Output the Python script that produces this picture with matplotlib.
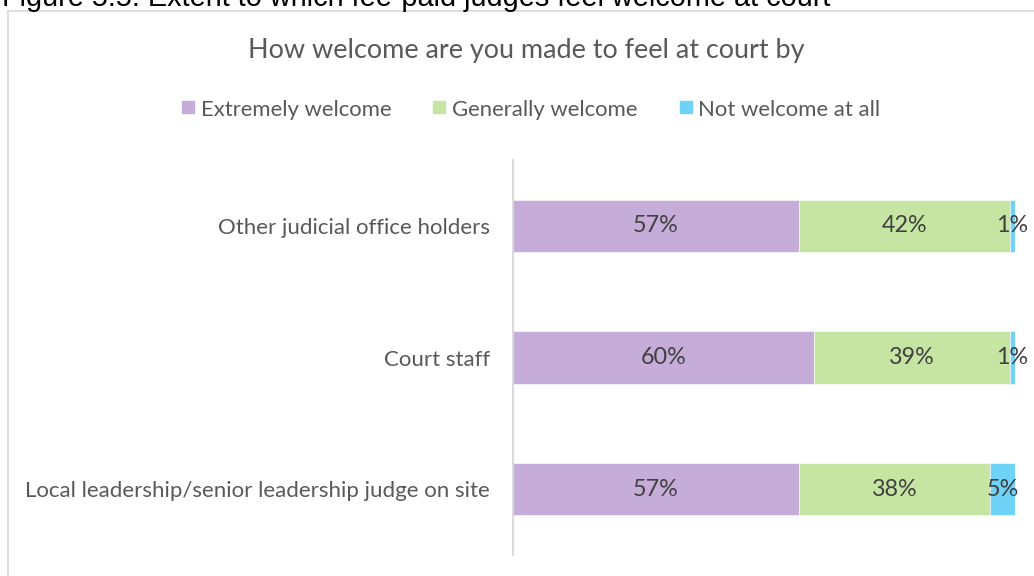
import matplotlib
matplotlib.use("Agg")
import matplotlib.pyplot as plt
from matplotlib.lines import Line2D
from matplotlib.patches import Rectangle

categories = ["Other judicial office holders", "Court staff",
              "Local leadership/senior leadership judge on site"]
series_names = ["Extremely welcome", "Generally welcome", "Not welcome at all"]
extremely = [57, 60, 57]
generally = [42, 39, 38]
not_welcome = [1, 1, 5]
series_values = [extremely, generally, not_welcome]
colors = ["#C6ACD8", "#C6E5A3", "#6ED3F6"]
title = "How welcome are you made to feel at court by"
heading = "Figure 5.5: Extent to which fee-paid judges feel welcome at court"

W, H = 1034, 576
fig = plt.figure(figsize=(W / 100, H / 100), dpi=100)
FONT = ["Lato", "DejaVu Sans"]
TXT = "#595959"
renderer = fig.canvas.get_renderer()


def fx(px):
    return px / W


def fy(py):
    return 1 - py / H


def fit(t, target_px):
    t.set_fontsize(10)
    w = t.get_window_extent(renderer).width
    t.set_fontsize(10 * target_px / w)
    return t.get_fontsize()


# frame border
fig.add_artist(Line2D([fx(7.5), fx(7.5)], [fy(10.5), 0], color="#D9D9D9", lw=1.2))
fig.add_artist(Line2D([fx(7.5), 1], [fy(10.5), fy(10.5)], color="#D9D9D9", lw=1.2))

# heading of the page, partly cut off at the top as in the reference
th = fig.text(fx(2), fy(6), heading, ha="left", va="baseline", color="black",
              family=["Liberation Sans", "DejaVu Sans"])
fit(th, 831)

# title
tt = fig.text(fx(526.5), fy(58), title, ha="center", va="baseline", color=TXT, family=FONT)
fit(tt, 557)

ax = fig.add_axes([fx(513), fy(555), fx(1015) - fx(513), (555 - 160) / H])
y = list(range(len(categories)))
left = [0] * len(categories)
bars_all = []
for name, vals, c in zip(series_names, series_values, colors):
    bars = ax.barh(y, vals, left=left, height=0.395, color=c, label=name,
                   edgecolor="white", linewidth=0.4)
    bars_all.append((bars, vals, left[:]))
    left = [l + v for l, v in zip(left, vals)]

ax.set_xlim(0, 100)
ax.set_ylim(-0.5, len(categories) - 0.5)
ax.invert_yaxis()
ax.set_xticks([])
ax.set_yticks(y)
ax.set_yticklabels(categories, color=TXT, family=FONT)
ax.tick_params(axis="y", length=0, pad=16.5)
for s in ["top", "right", "bottom"]:
    ax.spines[s].set_visible(False)
ax.spines["left"].set_color("#D9D9D9")
ax.spines["left"].set_linewidth(1.5)

# fit category font size to longest label
probe = fig.text(0, 0, categories[2], family=FONT)
cat_fs = fit(probe, 464)
probe.remove()
for lab in ax.get_yticklabels():
    lab.set_fontsize(cat_fs)

for bars, vals, lefts in bars_all:
    for b, v, l in zip(bars, vals, lefts):
        ax.text(l + v / 2, b.get_y() + b.get_height() / 2, f"{v}%", ha="center",
                va="center", color="#404040", fontsize=cat_fs * 1.05, family=FONT)

# legend
probe = fig.text(0, 0, series_names[2], family=FONT)
leg_fs = fit(probe, 182)
probe.remove()
sq_x = [182, 433, 680]
tx_x = [201, 452, 698]
for name, c, sx, tx in zip(series_names, colors, sq_x, tx_x):
    fig.add_artist(Rectangle((fx(sx), fy(113)), fx(12), 12 / H, color=c,
                             transform=fig.transFigure))
    fig.text(fx(tx), fy(107.5), name, ha="left", va="center_baseline", color=TXT,
             fontsize=leg_fs, family=FONT)

fig.savefig("out.png", dpi=100)
